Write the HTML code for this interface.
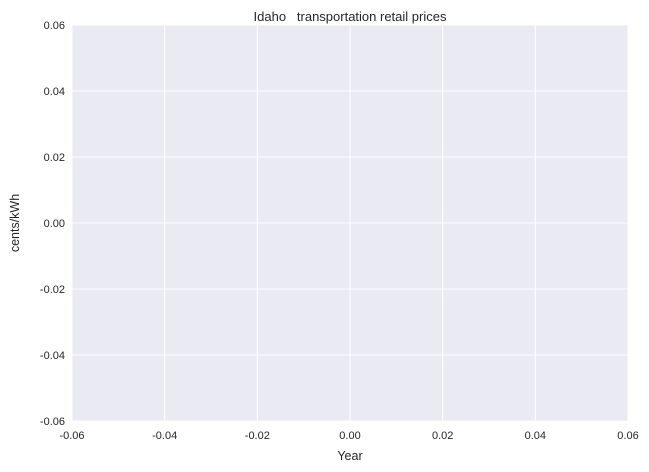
<!DOCTYPE html>
<html><head><meta charset="utf-8"><style>
html,body{margin:0;padding:0;background:#fff;}
svg{display:block;font-family:"Liberation Sans",sans-serif;}
</style></head><body>
<svg id="chart" width="649" height="472" viewBox="0 0 649 472">
<rect x="72" y="25" width="556" height="396" fill="#EAEAF2"/>
<g id="grid"></g>
<g id="ticks"></g>
<g id="marks"></g>
<text x="350" y="21" text-anchor="middle" font-size="13" fill="#262626" xml:space="preserve">Idaho   transportation retail prices</text>
<text x="350" y="460" text-anchor="middle" font-size="12.5" fill="#262626">Year</text>
<text x="19" y="223" text-anchor="middle" font-size="12.5" fill="#262626" transform="rotate(-90 19 223)">cents/kWh</text>
</svg>
<script>
const xTicks = [-0.06, -0.04, -0.02, 0.00, 0.02, 0.04, 0.06];
const yTicks = [-0.06, -0.04, -0.02, 0.00, 0.02, 0.04, 0.06];
const years = [];
const prices = [];
const X0=72, X1=628, Y0=421, Y1=25;
function xs(v){return X0+(v-(-0.06))/(0.12)*(X1-X0);}
function ys(v){return Y0-(v-(-0.06))/(0.12)*(Y0-Y1);}
const NS="http://www.w3.org/2000/svg";
const grid=document.getElementById('grid'), ticks=document.getElementById('ticks'), marks=document.getElementById('marks');
xTicks.forEach(t=>{
  const l=document.createElementNS(NS,'line');
  l.setAttribute('x1',xs(t));l.setAttribute('x2',xs(t));l.setAttribute('y1',Y1);l.setAttribute('y2',Y0);
  l.setAttribute('stroke','#fff');l.setAttribute('stroke-width','1');
  
  
  grid.appendChild(l);
  const tx=document.createElementNS(NS,'text');
  tx.setAttribute('x',xs(t));tx.setAttribute('y',439);tx.setAttribute('text-anchor','middle');
  tx.setAttribute('font-size','11');tx.setAttribute('fill','#262626');
  tx.textContent=t.toFixed(2);
  
  
  ticks.appendChild(tx);
});
yTicks.forEach(t=>{
  const l=document.createElementNS(NS,'line');
  l.setAttribute('y1',ys(t));l.setAttribute('y2',ys(t));l.setAttribute('x1',X0);l.setAttribute('x2',X1);
  l.setAttribute('stroke','#fff');l.setAttribute('stroke-width','1');
  
  
  grid.appendChild(l);
  const tx=document.createElementNS(NS,'text');
  tx.setAttribute('x',65);tx.setAttribute('y',ys(t)+4);tx.setAttribute('text-anchor','end');
  tx.setAttribute('font-size','11');tx.setAttribute('fill','#262626');
  tx.textContent=t.toFixed(2);
  
  
  ticks.appendChild(tx);
});
if(years.length){
  const p=document.createElementNS(NS,'polyline');
  p.setAttribute('points',years.map((y,i)=>xs(y)+','+ys(prices[i])).join(' '));
  p.setAttribute('fill','none');p.setAttribute('stroke','#4C72B0');
  
  
  marks.appendChild(p);
}
</script>
</body></html>
